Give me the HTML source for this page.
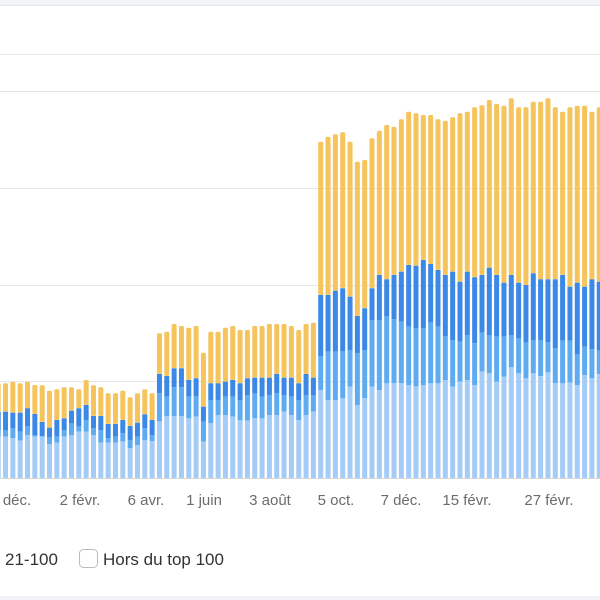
<!DOCTYPE html>
<html><head><meta charset="utf-8">
<style>
html,body{margin:0;padding:0;background:#fff;width:600px;height:600px;overflow:hidden;font-family:"Liberation Sans",sans-serif;}
</style></head>
<body>
<svg id="s" width="600" height="600" xmlns="http://www.w3.org/2000/svg" style="position:absolute;left:0;top:0">
<rect x="0" y="0" width="600" height="5" fill="#f2f3f6"/>
<rect x="0" y="5" width="600" height="1" fill="#e6e7ea"/>
<rect x="0" y="54" width="600" height="1" fill="#e6e6e6"/>
<rect x="0" y="91" width="600" height="1" fill="#e3e3e3"/>
<rect x="0" y="188" width="600" height="1" fill="#e6e6e6"/>
<rect x="0" y="285" width="600" height="1" fill="#e6e6e6"/>
<rect x="0" y="381" width="600" height="1" fill="#e6e6e6"/>
<g id="bars"></g>
<rect x="0" y="478" width="600" height="1" fill="#d8d8d8"/>
<g font-size="15" fill="#6b6b6b" text-anchor="middle">
<text x="17" y="505">déc.</text>
<text x="80" y="505">2 févr.</text>
<text x="146" y="505">6 avr.</text>
<text x="204" y="505">1 juin</text>
<text x="270" y="505">3 août</text>
<text x="336" y="505">5 oct.</text>
<text x="401" y="505">7 déc.</text>
<text x="467" y="505">15 févr.</text>
<text x="549" y="505">27 févr.</text>
<text x="604" y="505">9</text>
</g>
<text x="5" y="565" font-size="17" fill="#333">21-100</text>
<rect x="79.5" y="549.5" width="18" height="18" rx="4" fill="#fff" stroke="#bbb"/>
<text x="103" y="565" font-size="17" fill="#333">Hors du top 100</text>
<rect x="0" y="596" width="600" height="4" fill="#f2f3f6"/>
</svg>
<script>
var A=[[250,335,390,410],[250,335,390,410],[245,338,385,415],[250,338,395,422],[245,325,378,405],[255,342,405,410],[256,366,408,410],[272,383,412,432],[268,360,410,428],[262,355,390,410],[262,332,370,405],[268,325,380,395],[240,315,360,395],[256,348,385,405],[262,348,390,428],[280,372,415,428],[280,372,410,428],[272,360,400,425],[292,378,420,445],[280,368,410,435],[268,343,385,420],[280,360,405,423],[100,222,280,365],[95,228,290,348],[72,205,262,348],[78,205,262,348],[83,240,290,355],[78,235,290,350],[158,320,365,425],[95,250,300,370],[95,250,300,345],[83,245,290,345],[78,240,290,350],[90,250,300,360],[90,235,285,362],[78,233,280,355],[78,233,290,355],[72,233,285,345],[72,222,280,345],[72,233,285,335],[78,233,290,345],[90,250,300,360],[72,222,285,345],[68,233,285,335]];
var B=[[185,645,828,930],[170,645,815,960],[163,632,815,960],[157,625,815,955],[185,650,810,920],[245,708,820,975],[240,685,810,955],[175,625,720,920],[152,585,720,930],[135,598,710,910],[140,585,718,910],[118,575,725,910],[95,555,740,915],[100,557,745,920],[105,540,745,915],[105,552,728,910],[118,570,740,910],[122,585,768,900],[112,575,780,920],[100,605,785,905],[95,575,765,900],[82,592,790,915],[76,585,758,875],[60,563,765,880],[72,585,770,905],[77,608,770,890],[55,585,765,862],[82,608,775,880],[82,615,788,895],[65,580,782,880],[65,598,782,888],[55,598,788,877],[82,598,805,910],[95,585,782,910],[82,620,782,908],[77,608,822,915],[77,620,800,885],[95,598,808,895],[82,605,810,882]];
var data=A.map(function(r){return r.map(function(v){return v/3+300;});}).concat(B.map(function(r){return r.map(function(v){return v/3+80;});}));
var cols=["#f6c45c","#3b88e6","#5eabf2","#a5ccf6"];
var h="";
data.forEach(function(r,i){
 var x=(-4.3+i*7.33).toFixed(2);
 var ys=[r[0],r[1],r[2],r[3],478];
 for(var k=0;k<4;k++){
  var y=ys[k],hh=ys[k+1]-ys[k];
  if(hh>0)h+='<rect x="'+x+'" y="'+y.toFixed(1)+'" width="5" height="'+hh.toFixed(1)+'" fill="'+cols[k]+'"'+(k==0?' rx="1.5"':'')+'/>';
 }
});
document.getElementById("bars").innerHTML=h;
</script>
</body></html>
